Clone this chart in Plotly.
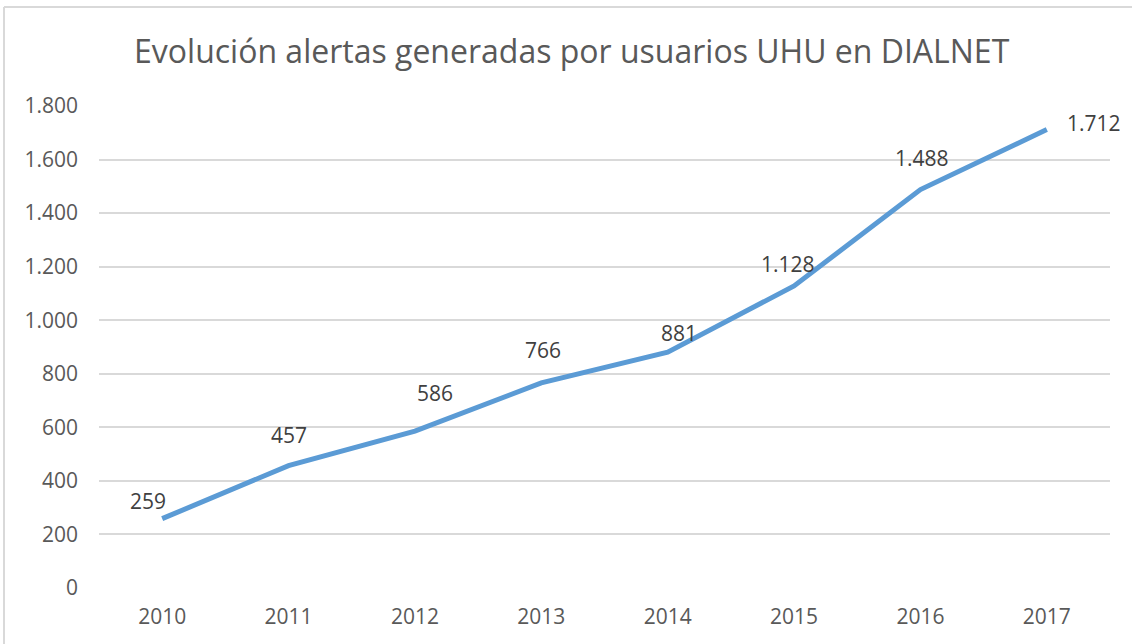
import plotly.graph_objects as go

years = ["2010", "2011", "2012", "2013", "2014", "2015", "2016", "2017"]
alertas = [259, 457, 586, 766, 881, 1128, 1488, 1712]
labels = ["259", "457", "586", "766", "881", "1.128", "1.488", "1.712"]
tick_vals = [0, 200, 400, 600, 800, 1000, 1200, 1400, 1600, 1800]
tick_text = ["0", "200", "400", "600", "800", "1.000", "1.200", "1.400", "1.600", "1.800"]

# pixel offsets of each data label relative to its point
label_dx = [-14, 0, 20, 2, 11, -6, 2, 47]
label_dy = [18, 31, 38, 33, 19, 22, 32, 7]

TXT = "#595959"
FONT = "Open Sans"

fig = go.Figure()
fig.add_trace(go.Scatter(
    x=years, y=alertas, mode="lines",
    line=dict(color="#5B9BD5", width=5),
    hoverinfo="skip", showlegend=False,
))

for i, (y, t, dx, dy) in enumerate(zip(alertas, labels, label_dx, label_dy)):
    fig.add_annotation(x=i, y=y, xref="x", yref="y", text=t, showarrow=False,
                       xshift=dx, yshift=dy,
                       font=dict(family=FONT, size=21, color="#404040"))

fig.update_layout(
    width=1132, height=644,
    margin=dict(l=99, r=22, t=106, b=56),
    paper_bgcolor="white", plot_bgcolor="white",
    title=dict(text="Evolución alertas generadas por usuarios UHU en DIALNET",
               x=0.505, xanchor="center", y=1 - 52 / 644, yanchor="middle",
               font=dict(family=FONT, size=32, color=TXT)),
    xaxis=dict(type="category", range=[-0.5, 7.5], showgrid=False,
               zeroline=False, showline=False, ticks="",
               tickfont=dict(family=FONT, size=21, color=TXT),
               ticklabelstandoff=14),
    yaxis=dict(range=[0, 1800], tickvals=tick_vals, ticktext=tick_text,
               showgrid=True, gridcolor="#D9D9D9", gridwidth=2,
               zeroline=False, showline=False, ticks="",
               tickfont=dict(family=FONT, size=21, color=TXT),
               ticklabelstandoff=20),
    shapes=[
        dict(type="line", xref="paper", yref="paper",
             x0=(4 - 99) / 1011, x1=(1132 - 99) / 1011,
             y0=(588 - 7) / 482, y1=(588 - 7) / 482,
             line=dict(color="#D9D9D9", width=2)),
        dict(type="line", xref="paper", yref="paper",
             x0=(4 - 99) / 1011, x1=(4 - 99) / 1011,
             y0=(588 - 7) / 482, y1=(588 - 644) / 482,
             line=dict(color="#D9D9D9", width=2)),
    ],
)

fig.write_html("out.html", config={"displayModeBar": False},
               post_script="document.body.style.margin='0px';document.body.style.overflow='hidden';")
